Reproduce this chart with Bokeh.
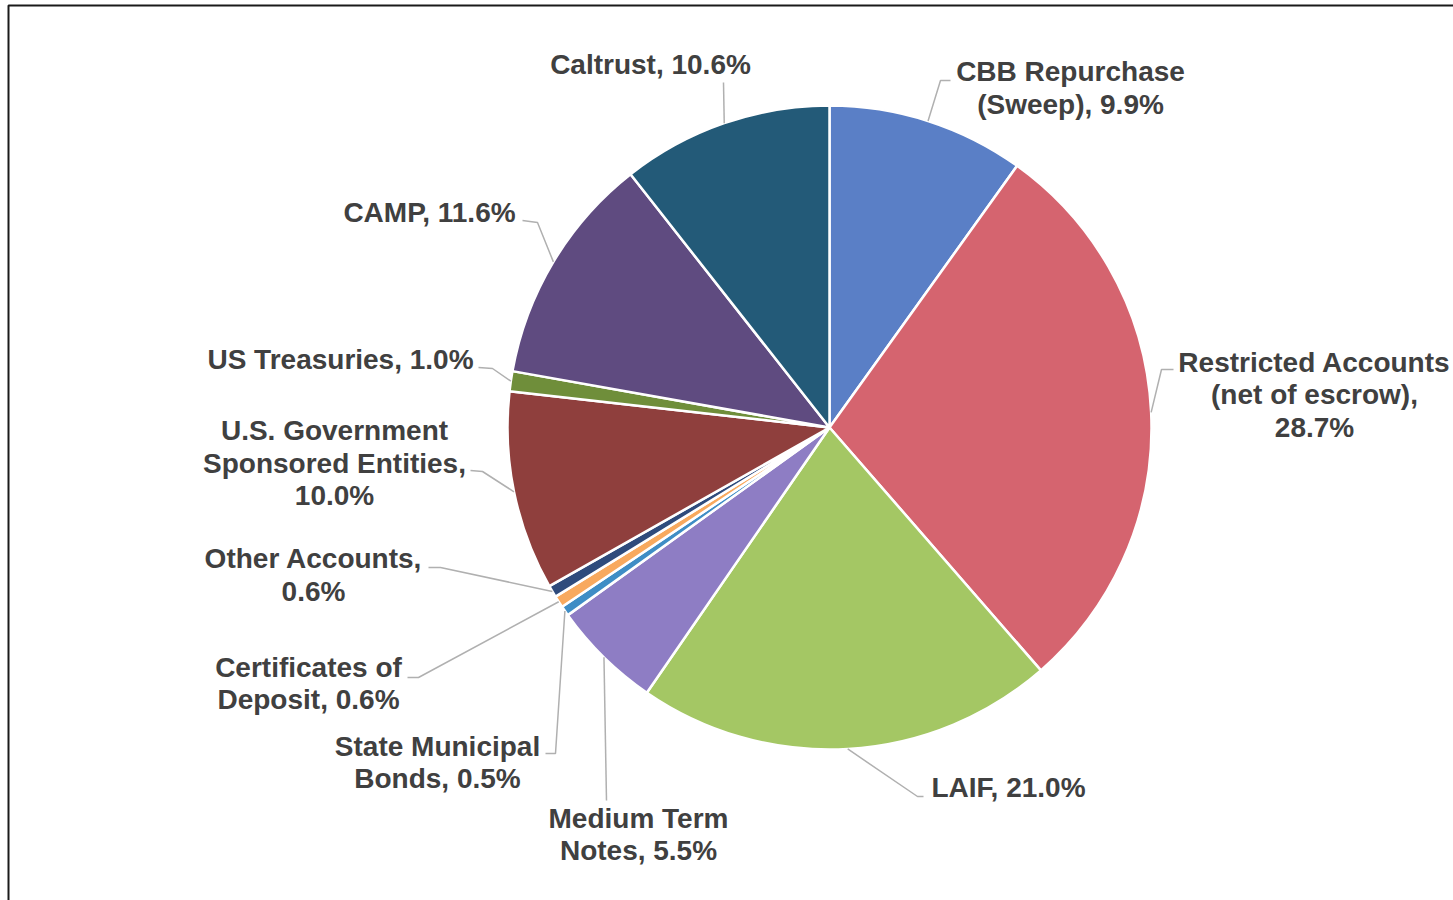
import math
import textwrap
from bokeh.plotting import figure
from bokeh.models import Range1d, ColumnDataSource
from bokeh.core.properties import value
from bokeh.embed import file_html
from bokeh.resources import INLINE

# ---- data ----
categories = ["CBB Repurchase (Sweep)", "Restricted Accounts (net of escrow)", "LAIF",
              "Medium Term Notes", "State Municipal Bonds", "Certificates of Deposit",
              "Other Accounts", "U.S. Government Sponsored Entities", "US Treasuries",
              "CAMP", "Caltrust"]
values = [9.9, 28.7, 21.0, 5.5, 0.5, 0.6, 0.6, 10.0, 1.0, 11.6, 10.6]
colors = ["#5A7FC6", "#D5646F", "#A4C764", "#8E7DC4", "#3F8DC5", "#F8A95E",
          "#2F4B7C", "#8F3F3D", "#6F8E3A", "#5F4B80", "#235A78"]

# ---- layout (screen px, y measured from top of window) ----
W, H = 1453, 900
CX, CY, R = 829, 427, 322
wrap_widths = [15, 19, 30, 11, 15, 15, 15, 19, 30, 30, 30]
label_centers = [(1070, 87.5), (1314, 394), (1008, 787), (638, 834), (437, 762),
                 (308, 683), (313, 574.5), (334, 462.5), (340, 359), (429, 212), (650, 64)]
leader_anchors = [[(950, 80), (940, 80)], [(1173, 369), (1161, 369)], [(923, 796), (917, 796)],
                  [(606, 800)], [(545, 753), (555, 753)], [(407, 677), (418, 677)],
                  [(428, 567), (440, 567)], [(470, 470), (482, 471)], [(478, 367), (492, 368)],
                  [(522, 220), (537, 222)], [(723, 82)]]
LINE_H = 32.5


def sy(y):
    return 900 - y


p = figure(width=W, height=H, output_backend="svg", toolbar_location=None,
           x_range=Range1d(0, W), y_range=Range1d(900 - H, 900),
           x_axis_location=None, y_axis_location=None, min_border=0)
p.grid.visible = False
p.outline_line_color = None
p.background_fill_color = "white"
p.border_fill_color = "white"

total = sum(values)
starts, ends, mids = [], [], []
cum = 0.0
for v in values:
    phi1 = cum / total * 360.0
    cum += v
    phi2 = cum / total * 360.0
    starts.append(math.radians(90 - phi2))
    ends.append(math.radians(90 - phi1))
    mids.append(math.radians((phi1 + phi2) / 2))

src = ColumnDataSource(dict(x=[CX] * len(values), y=[sy(CY)] * len(values),
                            start=starts, end=ends, color=colors, cat=categories, val=values))
p.wedge(x="x", y="y", radius=R, start_angle="start", end_angle="end",
        fill_color="color", line_color="white", line_width=2.5, source=src)

# leader lines
xs, ys = [], []
for anchors, m in zip(leader_anchors, mids):
    ex = CX + R * math.sin(m)
    ey = CY - R * math.cos(m)
    pts = anchors + [(ex, ey)]
    xs.append([a for a, b in pts])
    ys.append([sy(b) for a, b in pts])
p.multi_line(xs, ys, line_color="#B0B0B0", line_width=1.5)

# labels
tx, ty, tt = [], [], []
for cat, v, w, (cx, cy) in zip(categories, values, wrap_widths, label_centers):
    lines = textwrap.wrap(f"{cat}, {v:.1f}%", width=w)
    n = len(lines)
    for i, ln in enumerate(lines):
        tx.append(cx)
        ty.append(sy(cy + (i - (n - 1) / 2) * LINE_H))
        tt.append(ln)
p.text(tx, ty, text=tt, text_align="center", text_baseline="middle",
       text_font=value("Liberation Sans"), text_font_style="bold",
       text_font_size="28px", text_color="#404040")

# frame (left and top edges)
p.line([8, 8, W], [sy(900), sy(5), sy(5)], line_color="#1A1A1A", line_width=2)

open("out.html", "w").write(file_html(p, INLINE))
